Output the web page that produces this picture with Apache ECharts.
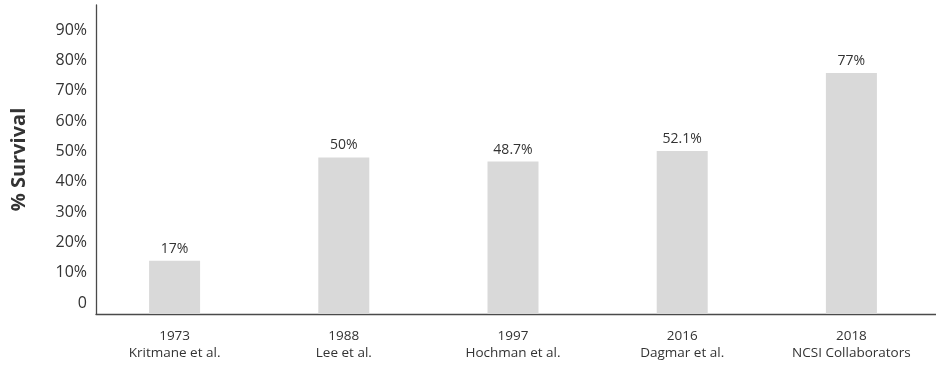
<!DOCTYPE html>
<html>
<head>
<meta charset="utf-8">
<script src="https://cdn.jsdelivr.net/npm/echarts@6/dist/echarts.min.js"></script>
<style>
  html, body { margin: 0; padding: 0; background: #fff; }
  #chart { width: 936px; height: 366px; }
</style>
</head>
<body>
<div id="chart"></div>
<script>
// Study years and authors, one bar per study
const years = ['1973', '1988', '1997', '2016', '2018'];
const studies = ['Kritmane et al.', 'Lee et al.', 'Hochman et al.', 'Dagmar et al.', 'NCSI Collaborators'];
// Reported survival (%)
const survival = [17, 50, 48.7, 52.1, 77];
// Labels on the percentage scale
const yTickLabels = ['0', '10%', '20%', '30%', '40%', '50%', '60%', '70%', '80%', '90%'];

const categories = years.map((y, i) => y + '\n' + studies[i]);
const FONT = '"Open Sans", "Noto Sans", sans-serif';
const TEXT = '#333333';
const AXIS = '#4a4a4a';

const chart = echarts.init(document.getElementById('chart'), null, { renderer: 'canvas' });
chart.setOption({
  animation: false,
  backgroundColor: '#ffffff',
  grid: [
    // bars
    { left: 90, right: 0, top: 5, height: 309 },
    // percentage tick labels
    { left: 96, right: 0, top: 30, height: 273 },
    // baseline
    { left: 96, right: 0, top: 5, height: 309 }
  ],
  xAxis: [
    {
      gridIndex: 0, type: 'category', data: categories,
      axisLine: { show: false }, axisTick: { show: false },
      axisLabel: { color: TEXT, fontFamily: FONT, fontSize: 13.5, lineHeight: 17, margin: 14 }
    },
    { gridIndex: 1, type: 'category', data: categories, show: false },
    {
      gridIndex: 2, type: 'category', data: categories,
      axisLine: { show: true, lineStyle: { color: AXIS, width: 1.3 } },
      axisTick: { show: false }, axisLabel: { show: false }
    }
  ],
  yAxis: [
    {
      gridIndex: 0, type: 'value', min: 0, max: 98.7, offset: -6,
      name: '% Survival', nameLocation: 'middle', nameGap: 67,
      nameTextStyle: { color: TEXT, fontFamily: FONT, fontSize: 20, fontWeight: 'bold' },
      axisLine: { show: true, lineStyle: { color: AXIS, width: 1.3 } },
      axisTick: { show: false }, axisLabel: { show: false }, splitLine: { show: false }
    },
    {
      gridIndex: 1, type: 'value', min: 0, max: 90, interval: 10,
      axisLine: { show: false }, axisTick: { show: false }, splitLine: { show: false },
      axisLabel: {
        color: TEXT, fontFamily: FONT, fontSize: 16, margin: 9,
        formatter: v => yTickLabels[Math.round(v / 10)] || ''
      }
    },
    { gridIndex: 2, type: 'value', min: 0, max: 100, show: false }
  ],
  series: [{
    type: 'bar',
    xAxisIndex: 0, yAxisIndex: 0,
    data: survival,
    barWidth: 51,
    itemStyle: { color: '#d9d9d9' },
    label: {
      show: true, position: 'top', distance: 5,
      color: TEXT, fontFamily: FONT, fontSize: 14,
      formatter: p => p.value + '%'
    }
  }]
});
</script>
</body>
</html>
